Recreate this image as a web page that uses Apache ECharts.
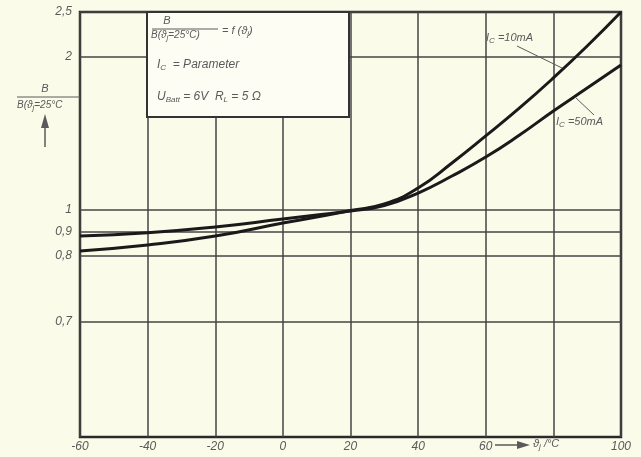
<!DOCTYPE html>
<html>
<head>
<meta charset="utf-8">
<script src="https://cdn.jsdelivr.net/npm/echarts@6/dist/echarts.min.js"></script>
<style>
  html, body { margin: 0; background: #fbfbea; }
  #chart { width: 641px; height: 457px; }
</style>
</head>
<body>
<div id="chart"></div>
<script>
// junction temperature, degC
const temps = [-60, -40, -20, 0, 10, 20, 30, 40, 50, 60, 70, 80, 90, 100];
// B / B(25degC)
const ic10mA = [0.821, 0.846, 0.883, 0.941, 0.968, 0.998, 1.039, 1.144, 1.307, 1.484, 1.667, 1.863, 2.122, 2.5];
const ic50mA = [0.883, 0.897, 0.923, 0.959, 0.977, 0.995, 1.029, 1.111, 1.222, 1.346, 1.490, 1.647, 1.797, 1.948];

const yTickValues = [0.7, 0.8, 0.9, 1, 2, 2.5];
const yTickLabels = ['0,7', '0,8', '0,9', '1', '2', '2,5'];

// the printed y scale is neither linear nor log, so values are mapped
// piecewise onto a plain value axis (units: px above the bottom edge)
const yTickPos = [115, 181, 205, 227, 380, 425];
function warp(v) {
  let i = 0;
  while (i < yTickValues.length - 2 && v > yTickValues[i + 1]) i++;
  const v0 = yTickValues[i], v1 = yTickValues[i + 1];
  const p0 = yTickPos[i], p1 = yTickPos[i + 1];
  return p0 + (v - v0) / (v1 - v0) * (p1 - p0);
}

const ink = '#1a1a1a';
const grey = '#5a5a5a';
const font = 'Liberation Sans';
const rich = {
  sub: { fontSize: 8, fontStyle: 'italic', fontFamily: font, fill: grey, padding: [6, 0, 0, 0] }
};

function txt(text, x, y, size, align) {
  return {
    type: 'text', z: 20, x: x, y: y,
    style: {
      text: text, fontSize: size, fontStyle: 'italic', fontFamily: font, fill: grey,
      align: align || 'left', verticalAlign: 'middle', rich: rich
    }
  };
}
function seg(x1, y1, x2, y2, w, c) {
  return {
    type: 'line', z: 20,
    shape: { x1: x1, y1: y1, x2: x2, y2: y2 },
    style: { stroke: c || grey, lineWidth: w || 1 }
  };
}

const chart = echarts.init(document.getElementById('chart'));
chart.setOption({
  backgroundColor: '#fbfbea',
  animation: false,
  grid: {
    left: 80, right: 20, top: 12, bottom: 20,
    show: true, borderColor: '#2a2a2a', borderWidth: 2.5
  },
  xAxis: {
    type: 'value', min: -60, max: 100, interval: 20,
    axisLine: { show: false },
    axisTick: { show: false },
    splitLine: { lineStyle: { color: '#444', width: 1.5 } },
    axisLabel: {
      margin: 4, color: grey, fontSize: 12, fontStyle: 'italic', fontFamily: font,
      formatter: v => (v === 80 ? '' : String(v))
    }
  },
  yAxis: {
    type: 'value', min: 0, max: 425,
    axisLine: { show: false },
    axisTick: { show: false, customValues: yTickValues.map(warp) },
    splitLine: { lineStyle: { color: '#444', width: 1.5 } },
    axisLabel: {
      customValues: yTickValues.map(warp),
      margin: 8, color: grey, fontSize: 12, fontStyle: 'italic', fontFamily: font,
      formatter: v => {
        const p = yTickValues.map(warp);
        const i = p.findIndex(q => Math.abs(q - v) < 0.5);
        return i < 0 ? '' : yTickLabels[i];
      }
    }
  },
  series: [
    {
      name: 'Ic=10mA', type: 'line', smooth: 0.5, symbol: 'none', z: 5,
      lineStyle: { color: ink, width: 3 },
      data: temps.map((t, i) => [t, warp(ic10mA[i])])
    },
    {
      name: 'Ic=50mA', type: 'line', smooth: 0.5, symbol: 'none', z: 5,
      lineStyle: { color: ink, width: 3 },
      data: temps.map((t, i) => [t, warp(ic50mA[i])])
    }
  ],
  graphic: [
    // parameter box
    {
      type: 'rect', z: 15,
      shape: { x: 147, y: 12, width: 202, height: 105 },
      style: { fill: '#fdfdf4', stroke: '#333', lineWidth: 2 }
    },
    txt('B', 167, 21, 11, 'center'),
    seg(152, 29, 218, 29),
    txt('B(ϑ{sub|j}=25°C)', 151, 35, 10),
    txt('= f (ϑ{sub|j})', 222, 31, 11),
    txt('I{sub|C}  = Parameter', 157, 65, 12),
    txt('U{sub|Batt} = 6V  R{sub|L} = 5 Ω', 157, 97, 12),

    // y title
    txt('B', 45, 89, 11, 'center'),
    seg(17, 97, 80, 97),
    txt('B(ϑ{sub|j}=25°C', 17, 105, 10),
    seg(45, 147, 45, 124, 1.5),
    { type: 'polygon', z: 20, shape: { points: [[41, 128], [49, 128], [45, 114]] }, style: { fill: grey } },

    // x title
    seg(495, 445, 520, 445, 1.5),
    { type: 'polygon', z: 20, shape: { points: [[517, 441], [517, 449], [530, 445]] }, style: { fill: grey } },
    txt('ϑ{sub|j} /°C', 533, 444, 11),

    // curve labels
    txt('I{sub|C} =10mA', 486, 38, 11),
    seg(517, 46, 562, 68),
    txt('I{sub|C} =50mA', 556, 122, 11),
    seg(575, 97, 594, 115)
  ]
});
</script>
</body>
</html>
